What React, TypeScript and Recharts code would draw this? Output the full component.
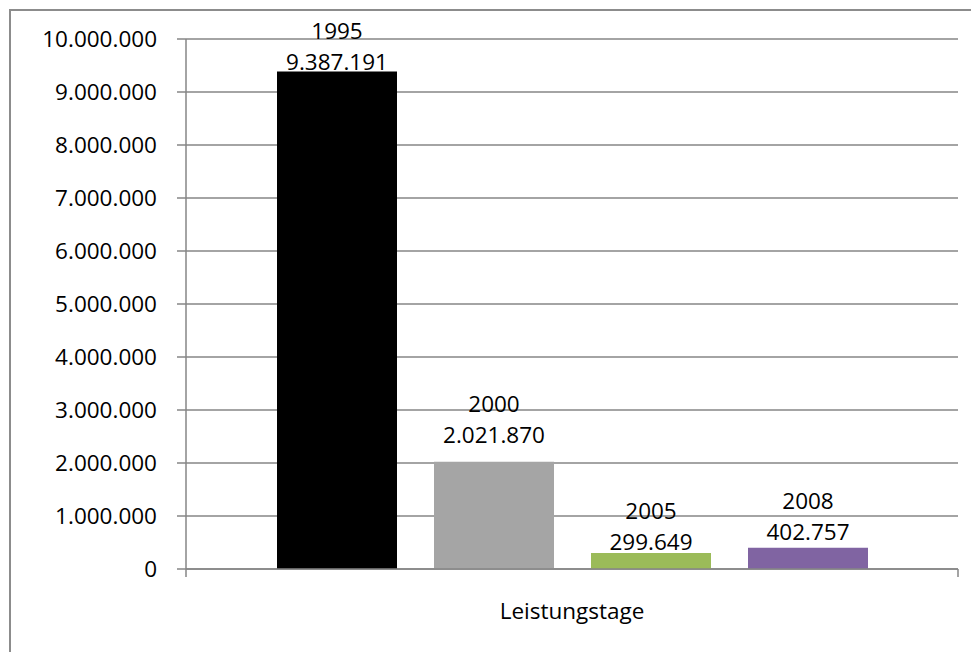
import React from "react";
import { BarChart, Bar, XAxis, YAxis, CartesianGrid, LabelList } from "recharts";

const categories = ["Leistungstage"];
const seriesNames = ["1995", "2000", "2005", "2008"];
const seriesValues = [9387191, 2021870, 299649, 402757];
const yTicks = [0, 1000000, 2000000, 3000000, 4000000, 5000000, 6000000, 7000000, 8000000, 9000000, 10000000];

const seriesColors = ["#000000", "#A5A5A5", "#9BBB59", "#8064A2"];
const labelLift = [9, 27, 11, 16];

const FONT = "'Open Sans', 'DejaVu Sans', sans-serif";
const FONT_SIZE = 22.5;
const AXIS_COLOR = "#868686";
const CHART_W = 971;
const CHART_H = 652;
const MARGIN = { top: 39, right: 13, left: 0, bottom: 23 };
const Y_AXIS_W = 186;
const PLOT_W = CHART_W - MARGIN.left - MARGIN.right - Y_AXIS_W;
const X_TICK_MARGIN = 34;
const EDGE_TICK = 8;

const fmt = (v: number) => String(Math.round(v)).replace(/\B(?=(\d{3})+(?!\d))/g, ".");

const data = categories.map((c) => {
  const row: Record<string, any> = { category: c };
  seriesNames.forEach((s, i) => {
    row["s" + s] = seriesValues[i];
  });
  return row;
});

const makeLabel = (name: string, lift: number) => (props: any) => {
  const { x, y, width, value } = props;
  const cx = Number(x) + Number(width) / 2;
  const vy = Number(y) - lift;
  return (
    <g>
      <text x={cx} y={vy - 31} dy="0.35em" textAnchor="middle" fill="#000" fontFamily={FONT} fontSize={FONT_SIZE}>
        {name}
      </text>
      <text x={cx} y={vy} dy="0.35em" textAnchor="middle" fill="#000" fontFamily={FONT} fontSize={FONT_SIZE}>
        {fmt(Number(value))}
      </text>
    </g>
  );
};

const CategoryTick = (props: any) => {
  const { x, y, payload, visibleTicksCount } = props;
  const band = PLOT_W / Math.max(1, visibleTicksCount || categories.length);
  const axisY = Number(y) - X_TICK_MARGIN;
  const left = Number(x) - band / 2;
  const right = Number(x) + band / 2;
  return (
    <g>
      <line x1={left} x2={left} y1={axisY} y2={axisY + EDGE_TICK} stroke={AXIS_COLOR} strokeWidth={1.5} />
      <line x1={right} x2={right} y1={axisY} y2={axisY + EDGE_TICK} stroke={AXIS_COLOR} strokeWidth={1.5} />
      <text x={x} y={y} dy="0.71em" textAnchor="middle" fill="#000" fontFamily={FONT} fontSize={FONT_SIZE}>
        {payload.value}
      </text>
    </g>
  );
};

export default function App() {
  return (
    <div style={{ position: "fixed", left: 0, top: 0, width: CHART_W, height: CHART_H, overflow: "hidden", background: "#fff" }}>
      <div
        style={{
          position: "absolute",
          left: 9,
          top: 9,
          width: 2000,
          height: 2000,
          border: "2px solid #8c8c8c",
          boxSizing: "border-box",
        }}
      />
      <div style={{ position: "absolute", left: 0, top: 0 }}>
        <BarChart
          width={CHART_W}
          height={CHART_H}
          data={data}
          margin={MARGIN}
          barGap={37}
          barCategoryGap={91}
        >
          <CartesianGrid vertical={false} stroke={AXIS_COLOR} strokeWidth={1.5} />
          <XAxis
            dataKey="category"
            height={60}
            axisLine={{ stroke: AXIS_COLOR, strokeWidth: 1.5 }}
            tickLine={false}
            tickSize={0}
            tickMargin={X_TICK_MARGIN}
            tick={<CategoryTick />}
          />
          <YAxis
            width={Y_AXIS_W}
            domain={[0, 10000000]}
            ticks={yTicks}
            interval={0}
            tickFormatter={fmt}
            tickSize={9}
            tickMargin={20}
            axisLine={{ stroke: AXIS_COLOR, strokeWidth: 1.5 }}
            tickLine={{ stroke: AXIS_COLOR, strokeWidth: 1.5 }}
            tick={{ fill: "#000", fontFamily: FONT, fontSize: FONT_SIZE }}
          />
          {seriesNames.map((s, i) => (
            <Bar key={s} dataKey={"s" + s} name={s} fill={seriesColors[i]} isAnimationActive={false}>
              <LabelList dataKey={"s" + s} content={makeLabel(s, labelLift[i])} />
            </Bar>
          ))}
        </BarChart>
      </div>
    </div>
  );
}
